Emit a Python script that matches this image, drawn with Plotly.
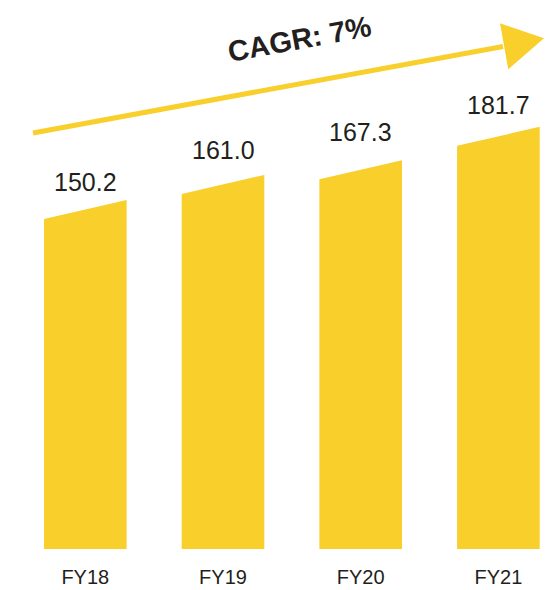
import plotly.graph_objects as go

# data
years = ["FY18", "FY19", "FY20", "FY21"]
values = [150.2, 161.0, 167.3, 181.7]
cagr_label = "CAGR: 7%"

YELLOW = "#F9CF2C"
TEXT = "#231F20"
FONT = "Liberation Sans, Arial, Helvetica, sans-serif"

W, H = 557, 590
BOTTOM = 40.7          # px below the bar baseline
PLOT_H = H - BOTTOM
PX_PER_UNIT = 2.325    # vertical scale of the bars
SLANT = 8.2            # left edge of each bar sits this much lower than the right
HALF_W = 0.3
label_lift = [18, 25, 28, 22]  # px from bar top to label centre


def px(x, y):
    # pixel position -> paper coords of the plot area
    return x / W, (PLOT_H - y) / PLOT_H


fig = go.Figure()

for i, v in enumerate(values):
    fig.add_trace(go.Scatter(
        x=[i - HALF_W, i - HALF_W, i + HALF_W, i + HALF_W],
        y=[0, v - SLANT, v, 0],
        fill="toself", fillcolor=YELLOW,
        mode="lines", line=dict(width=0, color=YELLOW),
        hoverinfo="skip", showlegend=False,
    ))
    fig.add_annotation(
        x=i, y=v, xref="x", yref="y", text=f"{v:.1f}",
        showarrow=False, yanchor="middle", yshift=label_lift[i],
        font=dict(size=25, color=TEXT, family=FONT),
    )

# growth arrow
x0, y0 = px(33, 133)
x1, y1 = px(503, 46.5)
fig.add_shape(type="line", xref="paper", yref="paper",
              x0=x0, y0=y0, x1=x1, y1=y1,
              line=dict(color=YELLOW, width=5))
tx, ty = px(544, 38.3)
ax, ay = px(500, 23.3)
bx, by = px(508.3, 69.3)
fig.add_shape(type="path", xref="paper", yref="paper",
              path=f"M {tx} {ty} L {ax} {ay} L {bx} {by} Z",
              fillcolor=YELLOW, line=dict(width=0))

cx, cy = px(299, 39)
fig.add_annotation(x=cx, y=cy, xref="paper", yref="paper", text=f"<b>{cagr_label}</b>",
                   showarrow=False, textangle=-10.5,
                   xanchor="center", yanchor="middle",
                   font=dict(size=29, color=TEXT, family=FONT))

fig.update_xaxes(
    range=[-85.3 / 137.7, (W - 85.3) / 137.7],
    tickvals=list(range(len(years))), ticktext=years,
    ticks="outside", ticklen=10, tickcolor="rgba(0,0,0,0)",
    tickfont=dict(size=20, color=TEXT, family=FONT),
    showgrid=False, zeroline=False, showline=False,
)
fig.update_yaxes(range=[0, PLOT_H / PX_PER_UNIT], visible=False, showgrid=False)

fig.update_layout(
    width=W, height=H,
    margin=dict(l=0, r=0, t=0, b=BOTTOM),
    plot_bgcolor="white", paper_bgcolor="white",
    showlegend=False,
)

fig.write_html("out.html", config={"displayModeBar": False},
               post_script="document.body.style.margin = '0';")
